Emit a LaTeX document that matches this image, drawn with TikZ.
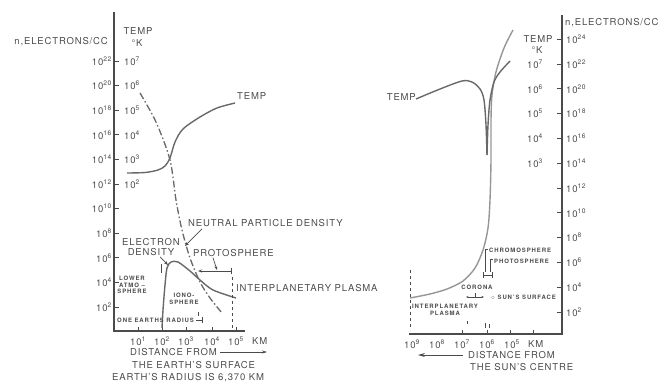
\documentclass[tikz,border=0pt]{standalone}
\usepackage{fontspec}
\setmainfont{TeX Gyre Heros}[LetterSpace=9]
\usetikzlibrary{arrows.meta,positioning,calc}
\definecolor{inkgray}{RGB}{75,75,75}
\definecolor{curvegray}{RGB}{105,105,105}
\definecolor{palegray}{RGB}{150,150,150}
\newcommand{\tenpow}[1]{10\textsuperscript{#1}}

\begin{document}
\begin{tikzpicture}[x=1pt,y=-1pt,
    axis/.style={draw=inkgray,line width=1.2pt},
    tickmark/.style={draw=inkgray,line width=0.8pt},
    curve/.style={draw=curvegray,line width=1.4pt},
    neutral/.style={draw=curvegray,line width=1.3pt,dash pattern=on 7pt off 2.5pt on 1.5pt off 2.5pt},
    pointer/.style={draw=inkgray,line width=0.7pt,-{Stealth[length=4pt,width=3pt]}},
    thinline/.style={draw=inkgray,line width=0.6pt},
    lbl/.style={text=inkgray,font=\fontsize{9.5}{10}\selectfont,inner sep=0pt},
    small/.style={text=inkgray,font=\fontsize{6}{6.8}\selectfont\bfseries\addfontfeature{LetterSpace=15},inner sep=0pt,align=center}]
    \useasboundingbox (0,0) rectangle (663,386);

    % Earth: axes and scales
    \draw[axis] (114,12) -- (114,331) -- (245,331);
    \node[lbl,anchor=east] (nEarth) at (108,42) {n,ELECTRONS/CC};
    \node[lbl] (tEarth) at (138,31) {TEMP};
    \node[lbl] (kEarth) at (137,43) {\textdegree K};
    \foreach \e [count=\k] in {2,4,...,22} {
      \pgfmathsetmacro\yy{307-24.6*(\k-1)}
      \draw[tickmark] (114,\yy) -- (119,\yy);
      \node[lbl,anchor=east] (eL\e) at (112,\yy) {\tenpow{\e}};
    }
    \foreach \t in {2,...,7} {
      \pgfmathsetmacro\yy{307-24.6*(\t+3)}
      \node[lbl,anchor=west] (tL\t) at (124,\yy) {\tenpow{\t}};
    }
    \foreach \e/\xx in {1/138,2/162,3/186,4/212,5/236} {
      \draw[tickmark] (\xx,331) -- (\xx,327);
      \node[lbl] (dL\e) at (\xx,341) {\tenpow{\e}};
    }
    \node[lbl,anchor=west] (kmL) at (252,341) {KM};
    \node[lbl,anchor=west] (distL) at (130,352) {DISTANCE FROM};
    \coordinate (distLend) at (267,352);
    \draw[thinline,-{Stealth[length=5pt,width=3pt]}] ([xshift=3pt]distL.east) -- (distLend);
    \node[lbl,anchor=west] (surfL) at (132,365) {THE EARTH'S SURFACE};
    \node[lbl,anchor=west] (radL) at (112,378) {EARTH'S RADIUS IS 6,370 KM};

    % Earth: curves
    \draw[neutral] plot[smooth] coordinates {(140,93) (156,122) (170,160) (176,200) (182,230) (190,258) (200,282) (210,298) (222,313)};
    \draw[curve] plot[smooth] coordinates {(127,173) (145,172.5) (158,170) (165,166) (170,158) (175,142) (183,129) (200,117) (217,108) (235,103)};
    \draw[curve] plot[smooth] coordinates {(162,328) (163,310) (165,285) (167,268) (171,262) (178,262) (190,271) (200,280) (213,290) (236,298)};
    \node[lbl,anchor=west] (tempL) at (237,96) {TEMP};

    % Earth: labels
    \node[lbl,align=center] (elecL) at (151,247) {ELECTRON\\DENSITY};
    \coordinate (elpeak) at (168,265);
    \draw[pointer] ([xshift=9pt,yshift=-1pt]elecL.south) -- (elpeak);
    \draw[thinline] (161,264) -- (161,273);
    \node[lbl,anchor=west] (neutL) at (188,223) {NEUTRAL PARTICLE DENSITY};
    \coordinate (nhead) at (185,246);
    \draw[pointer] ([xshift=14pt,yshift=-2pt]neutL.south west) -- (nhead);
    \node[lbl,anchor=west] (photoL) at (193,253) {PROTOSPHERE};
    \coordinate (pbl) at (198,271);
    \coordinate (pbr) at (232,271);
    \coordinate (pbot) at (232,331);
    \draw[pointer] ([xshift=20pt,yshift=-1pt]photoL.south west) -- ([xshift=19pt,yshift=1pt]pbl);
    \draw[thinline,line width=0.8pt,{Stealth[length=4pt,width=3pt]}-|] (pbl) -- (pbr);
    \draw[thinline,line width=0.8pt,dashed] ([yshift=-6pt]pbr) -- (pbot);
    \node[lbl,anchor=west] (planL) at (236,288) {INTERPLANETARY PLASMA};
    \node[small] (lowerL) at (132,285) {LOWER\\ATMO --\\SPHERE};
    \node[small] (ionoL) at (184,299) {IONO-\\SPHERE};
    \node[small,anchor=west] (radiusL) at (117,320) {ONE EARTHS RADIUS};
    \draw[thinline,-|] ([xshift=2pt]radiusL.east) -- ++(7,0);
    \draw[thinline] (198,312) -- (198,316);

    % Sun: axes and scales
    \draw[axis] (562,15) -- (562,334) -- (409,334);
    \node[lbl,anchor=west] (nSun) at (565,23) {n,ELECTRONS/CC};
    \node[lbl] (tSun) at (538,39) {TEMP};
    \node[lbl] (kSun) at (537,50) {\textdegree K};
    \foreach \e [count=\k] in {2,4,...,24} {
      \pgfmathsetmacro\yy{312-24.8*(\k-1)}
      \draw[tickmark] (557,\yy) -- (562,\yy);
      \node[lbl,anchor=west] (eR\e) at (566,\yy) {\tenpow{\e}};
    }
    \foreach \t in {3,...,7} {
      \pgfmathsetmacro\yy{312-24.8*(\t+3)}
      \node[lbl] (tR\t) at (535,\yy) {\tenpow{\t}};
    }
    \foreach \e/\xx in {9/412,8/437,7/462,6/487,5/512} {
      \node[lbl] (dR\e) at (\xx,344) {\tenpow{\e}};
    }
    \foreach \xx in {462,487,510,533} \draw[tickmark] (\xx,334) -- (\xx,330);
    \node[lbl,anchor=west] (kmR) at (528,344) {KM};
    \node[lbl,anchor=west] (distR) at (468,355) {DISTANCE FROM};
    \coordinate (distRend) at (418,355);
    \draw[thinline,line width=0.9pt,-{Stealth[length=7pt,width=4pt]}] ([xshift=-5pt]distR.west) -- (distRend);
    \node[lbl,anchor=west] (centR) at (470,367) {THE SUN'S CENTRE};

    % Sun: curves
    \draw[curve,draw=palegray] plot[smooth] coordinates {(410,298) (430,294) (447,289) (463,281) (475,268) (483,250) (488,228) (490,200) (491,160) (491,120) (492,95) (496,72) (504,48) (513,30)};
    \node[lbl,anchor=east] (tempR) at (416,97) {TEMP};
    \draw[curve] plot[smooth] coordinates {(416,99) (440,89) (462,81) (472,82) (480,89) (484,100) (486,125) (487,155)};
    \draw[curve] plot[smooth] coordinates {(487,155) (488,125) (490,100) (494,82) (500,72) (510,61)};

    % Sun: labels
    \draw[thinline,dashed] (410,270) -- (410,330);
    \node[small] (planR) at (445,310) {INTERPLANETARY\\PLASMA};
    \node[small] (coronaR) at (477,287) {CORONA};
    \draw[thinline,{Stealth[length=2.5pt,width=2pt]}-{Stealth[length=2.5pt,width=2pt]}] (466,297) -- (484,297);
    \draw[thinline] (475,293) -- (475,297);
    \node[small,anchor=west] (surfR) at (491,297) {$\circ$ SUN'S SURFACE};
    \node[small,anchor=west] (chromoR) at (489,250) {CHROMOSPHERE};
    \node[small,anchor=west] (photoR) at (494,261) {PHOTOSPHERE};
    \draw[thinline] (488,249) -- (485,249) -- (485,272);
    \draw[thinline] (493,259) -- (490,259) -- (490,272);
    \draw[thinline,|-|] (483,275) -- (493,275);
    \draw[thinline,dashed] (467,321) -- (467,327);
    \draw[thinline] (485,323) -- (485,328);
    \draw[thinline] (489,324) -- (489,328);
\end{tikzpicture}
\end{document}
